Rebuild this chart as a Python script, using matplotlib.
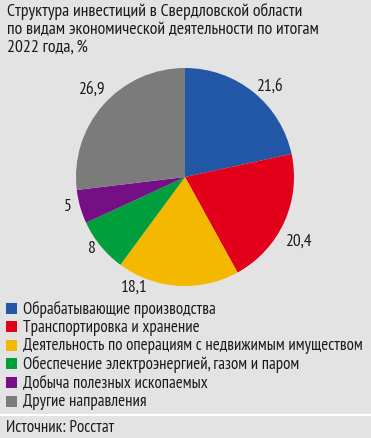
import numpy as np
import matplotlib.pyplot as plt
from matplotlib.patches import Rectangle

plt.rcParams['font.family'] = ['PT Sans Narrow', 'Roboto Condensed', 'DejaVu Sans']

title = 'Структура инвестиций в Свердловской области\nпо видам экономической деятельности по итогам\n2022 года, %'
categories = ['Обрабатывающие производства',
              'Транспортировка и хранение',
              'Деятельность по операциям с недвижимым имуществом',
              'Обеспечение электроэнергией, газом и паром',
              'Добыча полезных ископаемых',
              'Другие направления']
values = [21.6, 20.4, 18.1, 8, 5, 26.9]
value_labels = ['21,6', '20,4', '18,1', '8', '5', '26,9']
colors = ['#2157a6', '#e2001a', '#f4b800', '#009e3d', '#760f85', '#7b7b7b']
source = 'Источник: Росстат'

# label placement tweaks (angle shift in degrees, radial distance)
label_shift = [-4, -5, -21, -2, -2, -2]
label_dist = [1.14, 1.19, 1.11, 1.07, 1.11, 1.18]

W, H = 371, 439
bg = '#e3e3e3'
fig = plt.figure(figsize=(W / 100, H / 100), dpi=100, facecolor=bg)

def fx(x):
    return x / W

def fy(y):
    return 1 - y / H

fig.text(fx(7), fy(3), title, ha='left', va='top', fontsize=12.8,
         color='#1a1a1a', linespacing=1.14)

cx, cy, r = 185, 178, 109
ax = fig.add_axes([fx(cx - r), fy(cy + r), 2 * r / W, 2 * r / H])
ax.set_facecolor(bg)
wedges, _ = ax.pie(values, colors=colors, startangle=90, counterclock=False,
                   wedgeprops=dict(edgecolor='none'))
ax.set_xlim(-1, 1)
ax.set_ylim(-1, 1)
ax.set_aspect('equal')
ax.axis('off')

for w, lab, sh, d in zip(wedges, value_labels, label_shift, label_dist):
    ang = np.deg2rad((w.theta1 + w.theta2) / 2 + sh)
    ax.text(d * np.cos(ang), d * np.sin(ang), lab, ha='center', va='center',
            fontsize=12.5, color='#1a1a1a', clip_on=False)

y0, step = 309, 18.6
for i, (cat, col) in enumerate(zip(categories, colors)):
    y = y0 + i * step
    fig.patches.append(Rectangle((fx(6), fy(y + 5.5)), 11 / W, 11 / H,
                                 transform=fig.transFigure, facecolor=col,
                                 edgecolor='none'))
    fig.text(fx(23), fy(y), cat, ha='left', va='center', fontsize=12.2,
             color='#1a1a1a')

fig.patches.append(Rectangle((0, fy(417)), 1, 2 / H, transform=fig.transFigure,
                             facecolor='white', edgecolor='none'))
fig.text(fx(6), fy(428), source, ha='left', va='center', fontsize=12.2,
         color='#1a1a1a')

fig.savefig('out.png', dpi=100, facecolor=bg)
